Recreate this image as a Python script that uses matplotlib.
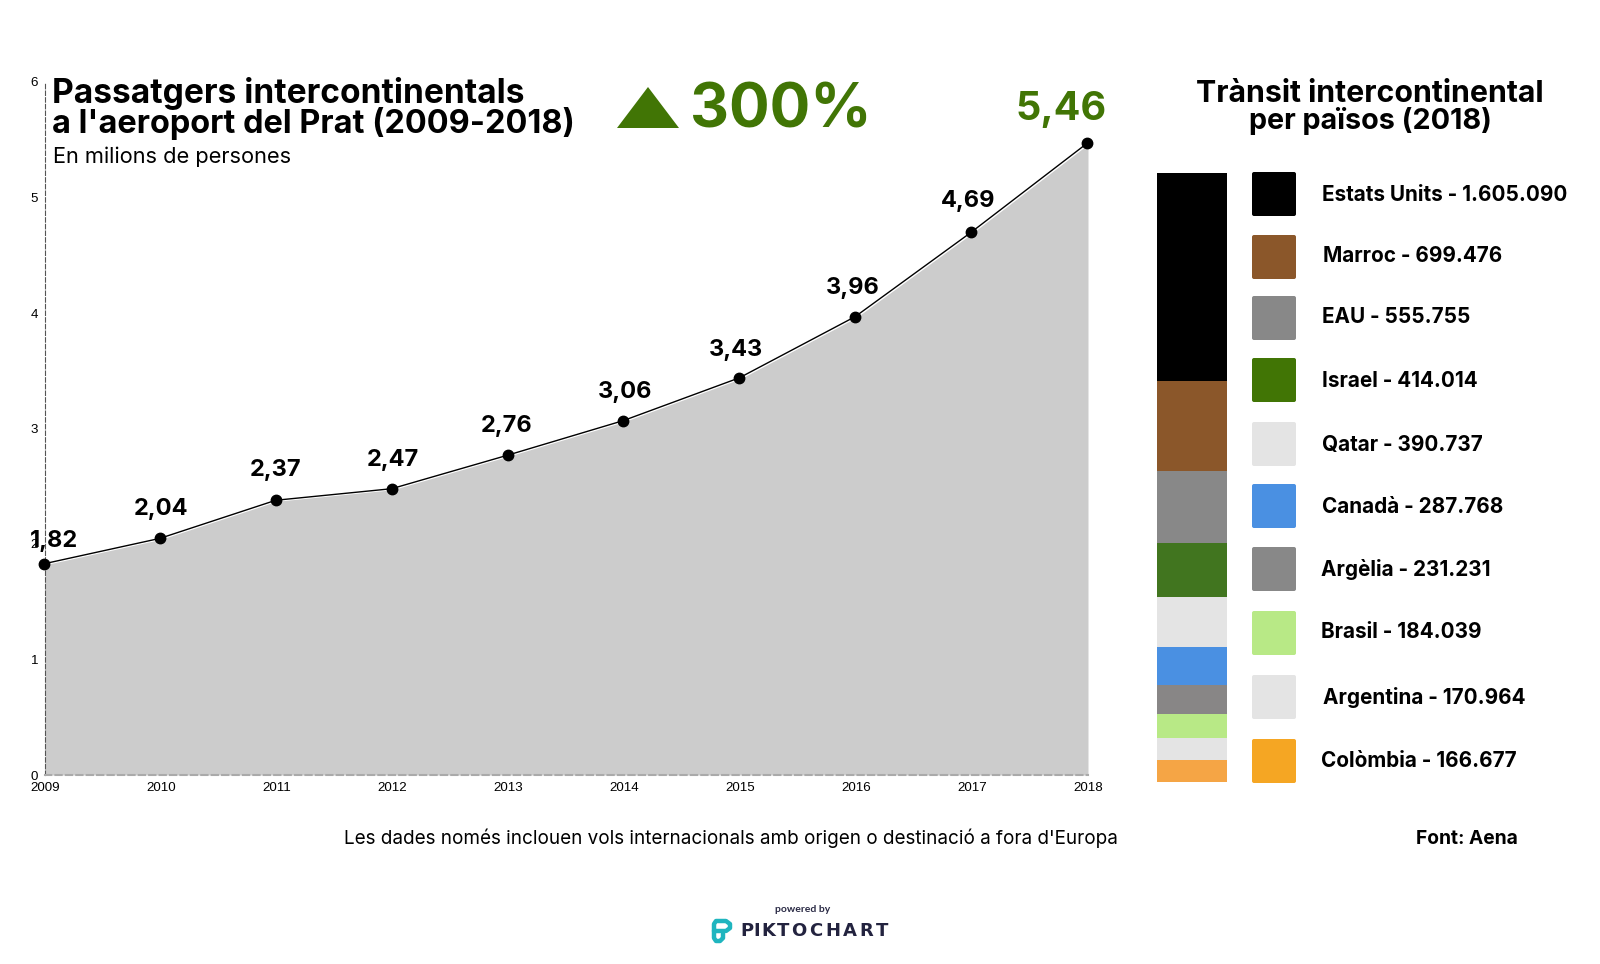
import matplotlib
matplotlib.use("Agg")
import matplotlib.pyplot as plt
from matplotlib.patches import FancyBboxPatch, Polygon
from matplotlib.transforms import offset_copy

plt.rcParams['font.family'] = ['Inter', 'DejaVu Sans']

# Passengers per year, millions
years = [2009, 2010, 2011, 2012, 2013, 2014, 2015, 2016, 2017, 2018]
passengers = [1.82, 2.04, 2.37, 2.47, 2.76, 3.06, 3.43, 3.96, 4.69, 5.46]
passenger_labels = ["1,82", "2,04", "2,37", "2,47", "2,76", "3,06", "3,43", "3,96", "4,69", "5,46"]

# Traffic by country, 2018
countries = ["Estats Units", "Marroc", "EAU", "Israel", "Qatar", "Canadà", "Argèlia", "Brasil", "Argentina", "Colòmbia"]
traffic = [1605090, 699476, 555755, 414014, 390737, 287768, 231231, 184039, 170964, 166677]
traffic_labels = ["1.605.090", "699.476", "555.755", "414.014", "390.737", "287.768", "231.231", "184.039", "170.964", "166.677"]
country_colors = ["#000000", "#8b572a", "#888888", "#417505", "#e4e4e4", "#4a90e2", "#888888", "#b8e986", "#e4e4e4", "#f5a623"]
# the stacked bar is a bit washed out compared to the swatches
bar_colors = ["#000000", "#8b572a", "#888888", "#41751f", "#e4e4e4", "#4a90e2", "#888686", "#b8e986", "#e4e4e4", "#f5a545"]

W, H = 1600, 964
GREEN = "#417505"

fig = plt.figure(figsize=(W / 100, H / 100), dpi=100, facecolor="white")


def axes_px(left, top, right, bottom):
    return fig.add_axes([left / W, 1 - bottom / H, (right - left) / W, (bottom - top) / H])


# Area chart
ax = axes_px(45, 82, 1088, 775)
ax.fill_between(years, passengers, 0, color="#cccccc", lw=0, zorder=1)
# line and dots sit a pixel up and left of the area in the original
shifted = offset_copy(ax.transData, fig, x=-1, y=1, units="dots")
ax.plot(years, passengers, color="black", lw=1, marker="o", ms=7.5, zorder=3, clip_on=False, transform=shifted)
ax.set_xlim(2009, 2018)
ax.set_ylim(0, 6)
ax.set_xticks(years)
ax.set_yticks(range(7))
ax.tick_params(length=0, labelsize=9.6, pad=5, labelfontfamily="Liberation Sans")
ax.tick_params(axis="y", pad=5)
for s in ["top", "right"]:
    ax.spines[s].set_visible(False)
ax.spines["left"].set_linestyle((0, (4, 2)))
ax.spines["left"].set_linewidth(0.8)
ax.spines["left"].set_color("#555555")
ax.spines["bottom"].set_linestyle((0, (3, 2)))
ax.spines["bottom"].set_linewidth(1.5)
ax.spines["bottom"].set_color("#aaaaaa")

# label offsets in pixels, they are not evenly placed in the original
label_dx = [9, 0, -1, 0, -2, 1, -4, -3, -4, -27]
label_dy = [24, 30, 31, 30, 30, 30, 29, 30, 32, 35]
for i in range(len(years)):
    big = i == len(years) - 1
    ax.annotate(passenger_labels[i], (years[i], passengers[i]), xytext=(label_dx[i] * 0.72, label_dy[i] * 0.72),
                textcoords="offset points", ha="center", va="center", fontweight="bold",
                fontsize=28.5 if big else 17, color=GREEN if big else "black", zorder=4)

# Stacked bar
bar = axes_px(1157, 173, 1227, 782)
bottom = sum(traffic)
for value, color in zip(traffic, bar_colors):
    bottom -= value
    bar.bar(0, value, bottom=bottom, width=1, color=color, lw=0)
bar.set_xlim(-0.5, 0.5)
bar.set_ylim(0, sum(traffic))
bar.axis("off")

# Overlay in pixel coordinates for titles and the legend
over = axes_px(0, 0, W, H)
over.set_xlim(0, W)
over.set_ylim(H, 0)
over.axis("off")
over.patch.set_alpha(0)

over.text(52, 93, "Passatgers intercontinentals", fontsize=24.15, fontweight="bold", va="center")
over.text(52, 123, "a l'aeroport del Prat (2009-2018)", fontsize=23.4, fontweight="bold", va="center")
over.text(53, 157, "En milions de persones", fontsize=15.7, va="center")

over.add_patch(Polygon([(617, 128), (648, 87), (679, 128)], color=GREEN, lw=0))
over.text(690, 111, "300%", fontsize=43.5, fontweight="bold", color=GREEN, va="center")

over.text(1370, 94, "Trànsit intercontinental", fontsize=21.8, fontweight="bold", ha="center", va="center")
over.text(1370, 121, "per països (2018)", fontsize=20.7, fontweight="bold", ha="center", va="center")

swatch_y = [194, 257, 318, 380, 444, 506, 569, 633, 697, 761]
label_y = [195, 256, 317, 381, 445, 507, 569, 632, 697, 761]
label_x = [1322, 1323, 1322, 1322, 1322, 1322, 1321, 1321, 1323, 1321]
for i in range(len(countries)):
    over.add_patch(FancyBboxPatch((1254, swatch_y[i] - 20), 40, 40, boxstyle="round,pad=2,rounding_size=2",
                                  fc=country_colors[i], ec="none"))
    over.text(label_x[i], label_y[i], countries[i] + " - " + traffic_labels[i], fontsize=14.9, fontweight="bold",
              va="center")

over.text(344, 838, "Les dades només inclouen vols internacionals amb origen o destinació a fora d'Europa",
          fontsize=13.6, va="center")
over.text(1416, 839, "Font: Aena", fontsize=13.8, fontweight="bold", va="center")

# Piktochart footer
over.text(803, 909, "powered by", fontsize=7.5, fontweight="bold", color="#2a2a45", ha="center", va="center",
          family="Lato")
logo_x = [747, 757, 768, 783, 799, 816, 833, 850, 866, 882]
for ch, x in zip("PIKTOCHART", logo_x):
    over.text(x, 931, ch, fontsize=13, fontweight="bold", color="#23233f", ha="center", va="center",
              family="DejaVu Sans")
teal = "#1fb5bf"
over.plot([714, 714, 716, 726, 730, 730, 726, 716, 714, 714, 716, 720, 723, 723],
          [931, 924, 921, 921, 924, 928, 931, 931, 931, 938, 941, 941, 938, 934],
          color=teal, lw=3.2, solid_capstyle="round", solid_joinstyle="round")

fig.savefig("out.png", dpi=100)
